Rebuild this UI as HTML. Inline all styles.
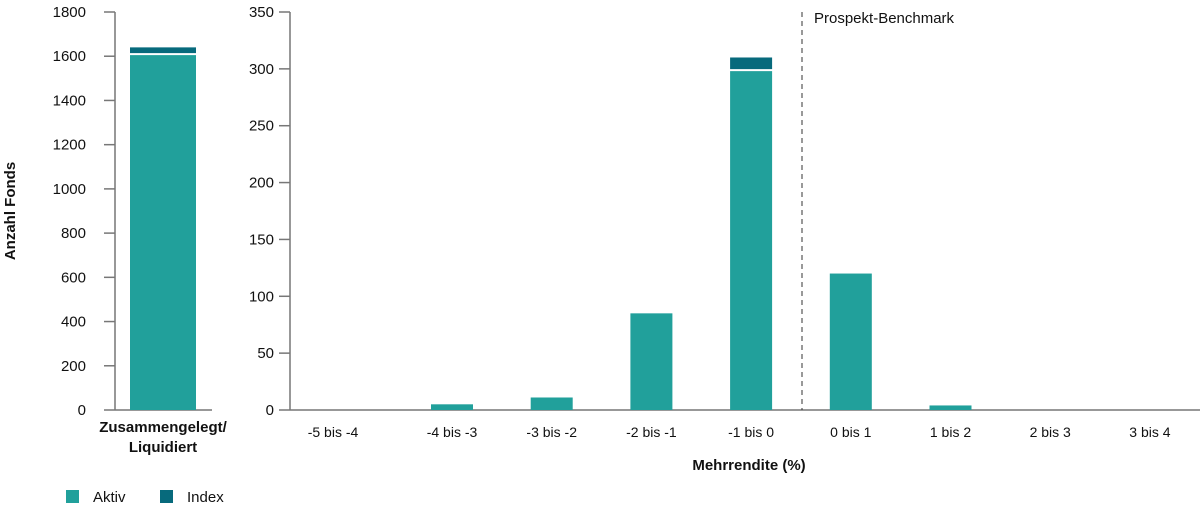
<!DOCTYPE html>
<html><head><meta charset="utf-8"><style>
body{margin:0;background:#fff;font-family:"Liberation Sans",sans-serif}
svg text{font-family:"Liberation Sans",sans-serif;fill:#111}
</style></head><body>
<svg id="c" width="1200" height="508"></svg>
<script>
const leftCats=["Zusammengelegt/Liquidiert"];
const leftAktiv=[1605];
const leftIndex=[35];
const leftTicks=[0,200,400,600,800,1000,1200,1400,1600,1800];
const cats=["-5 bis -4","-4 bis -3","-3 bis -2","-2 bis -1","-1 bis 0","0 bis 1","1 bis 2","2 bis 3","3 bis 4"];
const aktiv=[0,5,11,85,298,120,4,0,0];
const indexV=[0,0,0,0,12,0,0,0,0];
const rightTicks=[0,50,100,150,200,250,300,350];
const C1="#21a09b",C2="#076a7c";
const svg=document.getElementById('c');const NS="http://www.w3.org/2000/svg";
function el(t,a,txt){const e=document.createElementNS(NS,t);for(const k in a)e.setAttribute(k,a[k]);if(txt!=null)e.textContent=txt;svg.appendChild(e);return e;}
const y0=410,yTop=12;
const yL=v=>y0-v/1800*(y0-yTop);
const yR=v=>y0-v/350*(y0-yTop);
const xR=i=>452+99.7*(i-1);
// left axis
let e=el('line',{x1:115,x2:115,y1:yTop,y2:y0,stroke:'#777','stroke-width':1.5});

leftTicks.forEach(t=>{
 let l=el('line',{x1:104,x2:115,y1:yL(t),y2:yL(t),stroke:'#777','stroke-width':1.5});
 
 let tx=el('text',{x:86,y:yL(t)+5,'text-anchor':'end','font-size':15},t);
 
});
e=el('line',{x1:115,x2:212,y1:y0,y2:y0,stroke:'#777','stroke-width':1.5});

leftCats.forEach((c,i)=>{
 let a=leftAktiv[i],b=leftIndex[i];
 let r=el('rect',{x:130,width:66,y:yL(a),height:y0-yL(a),fill:C1});
 
 let r2=el('rect',{x:130,width:66,y:yL(a+b),height:yL(a)-yL(a+b)-2,fill:C2});
 
});
e=el('text',{x:163,y:432,'text-anchor':'middle','font-size':15,'font-weight':'bold'},'Zusammengelegt/');

e=el('text',{x:163,y:452,'text-anchor':'middle','font-size':15,'font-weight':'bold'},'Liquidiert');

e=el('text',{x:15,y:211,'text-anchor':'middle','font-size':15,'font-weight':'bold',transform:'rotate(-90 15 211)'},'Anzahl Fonds');

// right axis
e=el('line',{x1:290,x2:290,y1:yTop,y2:y0,stroke:'#777','stroke-width':1.5});

rightTicks.forEach(t=>{
 let l=el('line',{x1:279,x2:290,y1:yR(t),y2:yR(t),stroke:'#777','stroke-width':1.5});
 
 let tx=el('text',{x:274,y:yR(t)+5,'text-anchor':'end','font-size':15},t);
 
});
e=el('line',{x1:290,x2:1200,y1:y0,y2:y0,stroke:'#777','stroke-width':1.5});

cats.forEach((c,i)=>{
 const cx=xR(i);
 if(aktiv[i]>0){
  let r=el('rect',{x:cx-21,width:42,y:yR(aktiv[i]),height:y0-yR(aktiv[i]),fill:C1});
  
 }
 if(indexV[i]>0){
  let r=el('rect',{x:cx-21,width:42,y:yR(aktiv[i]+indexV[i]),height:yR(aktiv[i])-yR(aktiv[i]+indexV[i])-2,fill:C2});
  
 }
 let tx=el('text',{x:i==0?333:cx,y:437,'text-anchor':'middle','font-size':14},c);
 
});
e=el('line',{x1:802,x2:802,y1:yTop,y2:y0,stroke:'#333','stroke-width':1,'stroke-dasharray':'5,4'});

e=el('text',{x:814,y:23,'font-size':15},'Prospekt-Benchmark');

e=el('text',{x:749,y:470,'text-anchor':'middle','font-size':15,'font-weight':'bold'},'Mehrrendite (%)');

// legend
e=el('rect',{x:66,y:490,width:13,height:13,fill:C1});

e=el('text',{x:93,y:502,'font-size':15},'Aktiv');

e=el('rect',{x:160,y:490,width:13,height:13,fill:C2});

e=el('text',{x:187,y:502,'font-size':15},'Index');

</script>
</body></html>
